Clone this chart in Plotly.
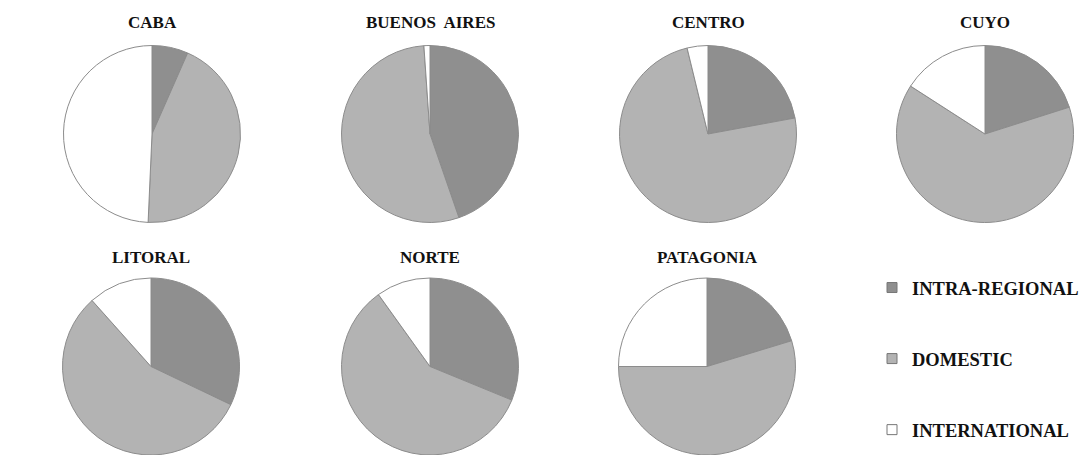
import plotly.graph_objects as go

# ---- data ----
regions = ["CABA", "BUENOS  AIRES", "CENTRO", "CUYO", "LITORAL", "NORTE", "PATAGONIA"]
categories = ["INTRA-REGIONAL", "DOMESTIC", "INTERNATIONAL"]
intra_regional = [6.6, 44.7, 22.1, 20.1, 32.1, 31.2, 20.3]
domestic = [44.1, 54.2, 74.1, 64.0, 56.3, 58.9, 54.7]
international = [49.3, 1.1, 3.8, 15.9, 11.6, 9.9, 25.0]

# ---- layout / style ----
W, H = 1082, 455
colors = ["#8f8f8f", "#b3b3b3", "#ffffff"]
edge = "#8c8c8c"
serif = "Liberation Serif, Times New Roman, serif"
centers = [(152, 134), (430, 134), (708, 134), (985, 134),
           (151, 366.5), (430, 366.5), (707, 366.5)]
R = 88.5
title_y = [22, 22, 22, 22, 257, 257, 257]

fig = go.Figure()
annotations = []
for i, reg in enumerate(regions):
    cx, cy = centers[i]
    x0, x1 = (cx - R) / W, (cx + R) / W
    yb = H - cy
    y0, y1 = max(0.0, (yb - R) / H), min(1.0, (yb + R) / H)
    fig.add_trace(go.Pie(
        labels=categories,
        values=[intra_regional[i], domestic[i], international[i]],
        sort=False, direction="clockwise", rotation=0,
        marker=dict(colors=colors, line=dict(color=edge, width=1)),
        textinfo="none", showlegend=False, name=reg,
        domain=dict(x=[x0, x1], y=[y0, y1]),
    ))
    annotations.append(dict(
        text=reg, x=cx / W, y=1 - title_y[i] / H, xref="paper", yref="paper",
        xanchor="center", yanchor="middle", showarrow=False,
        font=dict(family=serif, size=17, color="#111111", weight="bold"),
    ))

for j, cat in enumerate(categories):
    fig.add_trace(go.Scatter(
        x=[None], y=[None], mode="markers", name=cat, legendgroup=cat,
        marker=dict(symbol="square", size=10, color=colors[j],
                    line=dict(color="#777777", width=1)),
        showlegend=True, hoverinfo="skip",
    ))

fig.update_layout(
    width=W, height=H, margin=dict(l=0, r=0, t=0, b=0, autoexpand=False),
    paper_bgcolor="white", plot_bgcolor="white",
    xaxis=dict(visible=False), yaxis=dict(visible=False),
    annotations=annotations,
    legend=dict(
        x=(872) / W, y=1 - 269 / H, xanchor="left", yanchor="top",
        traceorder="grouped", tracegroupgap=44, itemwidth=30,
        font=dict(family=serif, size=18.5, color="#111111", weight="bold"),
        bgcolor="rgba(0,0,0,0)",
    ),
)

fig.write_html("out.html")
